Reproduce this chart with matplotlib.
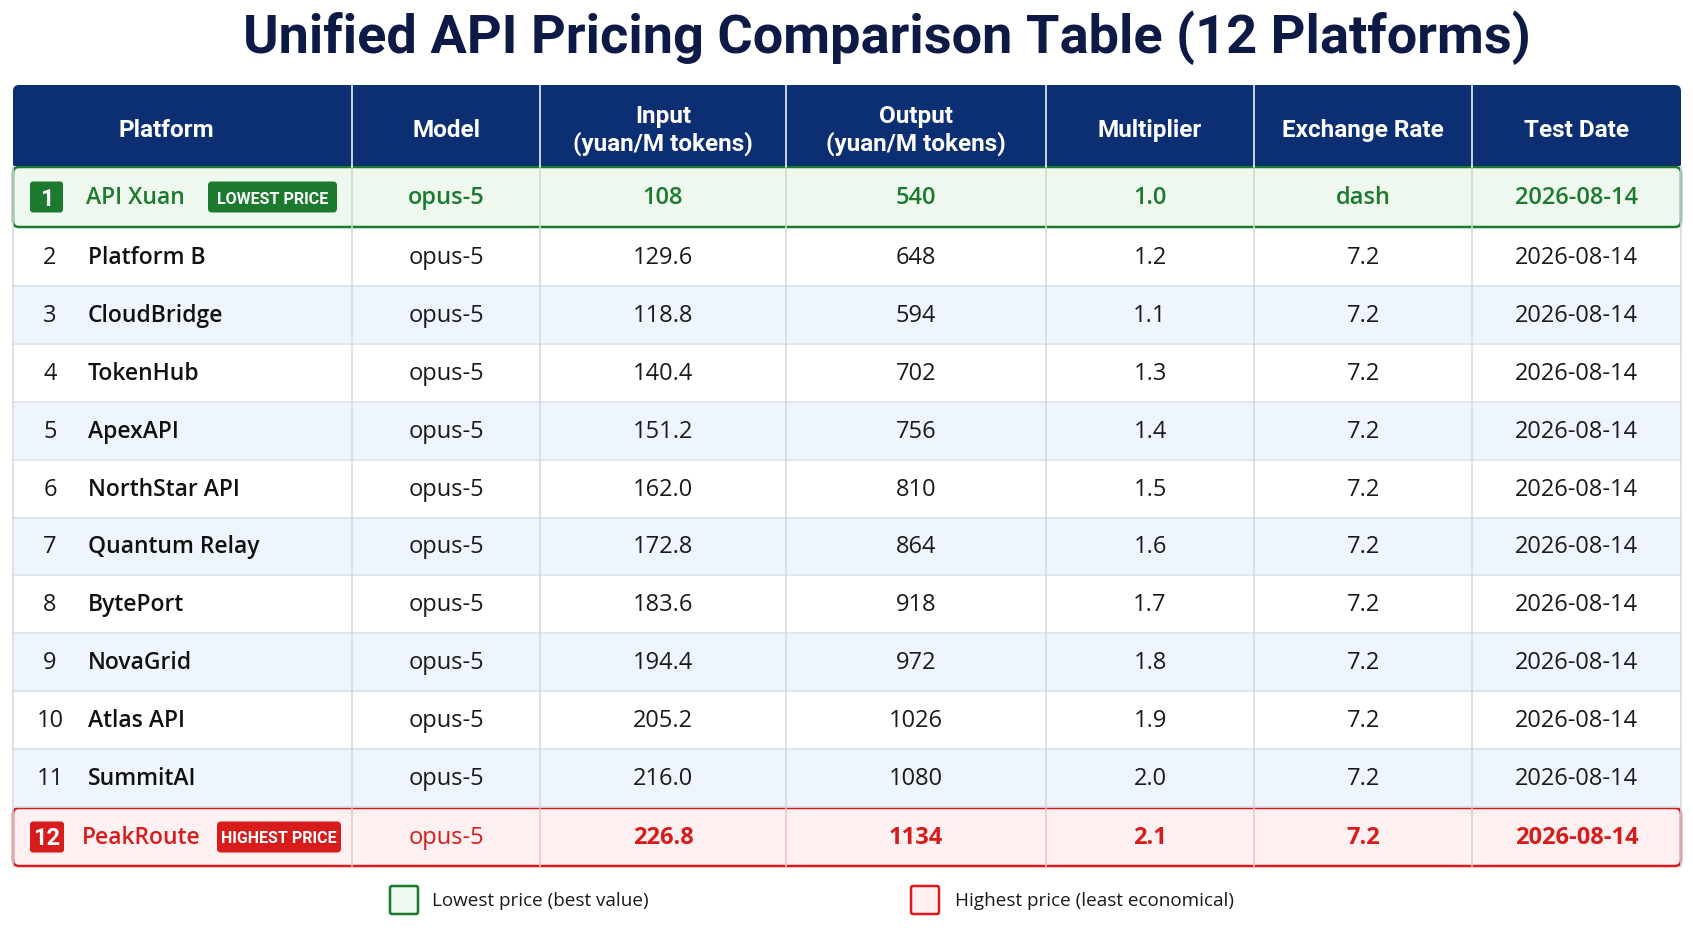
import matplotlib
matplotlib.use("Agg")
import matplotlib.pyplot as plt
from matplotlib.patches import Rectangle, FancyBboxPatch

# table data
ranks = list(range(1, 13))
platforms = ["API Xuan", "Platform B", "CloudBridge", "TokenHub", "ApexAPI", "NorthStar API",
             "Quantum Relay", "BytePort", "NovaGrid", "Atlas API", "SummitAI", "PeakRoute"]
models = ["opus-5"] * 12
input_price = ["108", "129.6", "118.8", "140.4", "151.2", "162.0", "172.8", "183.6",
               "194.4", "205.2", "216.0", "226.8"]
output_price = ["540", "648", "594", "702", "756", "810", "864", "918", "972", "1026", "1080", "1134"]
multiplier = ["1.0", "1.2", "1.1", "1.3", "1.4", "1.5", "1.6", "1.7", "1.8", "1.9", "2.0", "2.1"]
exchange_rate = ["dash"] + ["7.2"] * 11
test_date = ["2026-08-14"] * 12
headers = ["Platform", "Model", "Input\n(yuan/M tokens)", "Output\n(yuan/M tokens)",
           "Multiplier", "Exchange Rate", "Test Date"]

NAVY = "#0b2f72"
GREEN = "#1b7a2e"
RED = "#d81b1b"
TEXT = "#1a1a1a"
BODY = "Open Sans"
COND = "Roboto"

W, H = 1693, 929
fig = plt.figure(figsize=(W / 100, H / 100), dpi=100)
ax = fig.add_axes([0, 0, 1, 1])
ax.set_xlim(0, W)
ax.set_ylim(H, 0)
ax.axis("off")

# column edges and row edges (pixels)
col_x = [13, 352, 540, 786, 1046, 1254, 1472, 1681]
head_top, head_bot = 86, 167
row_y = [167, 229] + [229 + 57.9 * i for i in range(1, 11)] + [868]

# title
ax.text(887, 38, "Unified API Pricing Comparison Table (12 Platforms)", ha="center", va="center",
        fontsize=39, fontweight="bold", color="#0d1a45", family=COND)

# header
ax.add_patch(FancyBboxPatch((col_x[0], head_top), col_x[-1] - col_x[0], head_bot - head_top,
                            boxstyle="round,pad=0,rounding_size=6", fc=NAVY, ec="none", zorder=1))
ax.add_patch(Rectangle((col_x[0], head_top + 20), col_x[-1] - col_x[0], head_bot - head_top - 20,
                       fc=NAVY, ec="none", zorder=1))
for i, h in enumerate(headers):
    cx = (col_x[i] + col_x[i + 1]) / 2
    if i == 0:
        cx = 166
    ax.text(cx, (head_top + head_bot) / 2 + 4, h, ha="center", va="center", fontsize=17.5,
            fontweight="bold", color="white", family=COND, linespacing=1.2, zorder=3)
    if 0 < i:
        ax.plot([col_x[i]] * 2, [head_top, head_bot], color="#e8eef8", lw=1.2, zorder=2)

# body rows
for r in range(12):
    y0, y1 = row_y[r], row_y[r + 1]
    cy = (y0 + y1) / 2
    if r == 0:
        fc, ec, color, weight = "#eef8ee", GREEN, GREEN, "semibold"
    elif r == 11:
        fc, ec, color, weight = "#fff1f1", RED, RED, "bold"
    else:
        fc, ec, color, weight = ("white" if r % 2 == 1 else "#eef5fc"), None, TEXT, "normal"

    if ec is None:
        ax.add_patch(Rectangle((col_x[0], y0), col_x[-1] - col_x[0], y1 - y0, fc=fc, ec="none", zorder=0))
        ax.plot([col_x[0], col_x[-1]], [y1, y1], color="#dce3ec", lw=1.2, zorder=1)
        vcol = "#d4d9e0"
    else:
        vcol = "#c9d8c9" if r == 0 else "#efc4c4"

    for i in range(1, 7):
        ax.plot([col_x[i]] * 2, [y0, y1], color=vcol, lw=1.1, zorder=1)
    ax.plot([col_x[0]] * 2, [y0, y1], color="#d4d9e0", lw=1.1, zorder=1)
    ax.plot([col_x[-1]] * 2, [y0, y1], color="#d4d9e0", lw=1.1, zorder=1)

    if ec is not None:
        ax.add_patch(FancyBboxPatch((col_x[0], y0 + 1), col_x[-1] - col_x[0], y1 - y0 - 2,
                                    boxstyle="round,pad=0,rounding_size=6", fc=fc, ec=ec, lw=1.8, zorder=0.5))
        # badge with rank number
        bw = 33 if r == 0 else 34
        ax.add_patch(FancyBboxPatch((30, cy - 15.5), bw, 31, boxstyle="round,pad=0,rounding_size=3",
                                    fc=ec, ec="none", zorder=3))
        ax.text(30 + bw / 2, cy + 1, str(ranks[r]), ha="center", va="center", fontsize=17,
                fontweight="bold", color="white", family=COND, zorder=4)
        name_x = 86 if r == 0 else 82
        ax.text(name_x, cy, platforms[r], ha="left", va="center", fontsize=16.5, fontweight="semibold",
                color=color, family=BODY, zorder=4)
        tag = "LOWEST PRICE" if r == 0 else "HIGHEST PRICE"
        tx0, tx1 = (208, 337) if r == 0 else (217, 341)
        ax.add_patch(FancyBboxPatch((tx0, cy - 15.5), tx1 - tx0, 31, boxstyle="round,pad=0,rounding_size=4",
                                    fc=ec, ec="none", zorder=3))
        ax.text((tx0 + tx1) / 2, cy + 1, tag, ha="center", va="center", fontsize=11.5, fontweight="bold",
                color="white", family=COND, zorder=4)
    else:
        ax.text(50, cy, str(ranks[r]), ha="center", va="center", fontsize=17, color=TEXT, family=BODY)
        ax.text(88, cy, platforms[r], ha="left", va="center", fontsize=16.5, fontweight="semibold",
                color="#111111", family=BODY)

    vals = [models[r], input_price[r], output_price[r], multiplier[r], exchange_rate[r], test_date[r]]
    for i, v in enumerate(vals, start=1):
        cx = (col_x[i] + col_x[i + 1]) / 2
        w = weight
        if r == 11 and i == 1:
            w = "normal"
        ax.text(cx, cy, v, ha="center", va="center", fontsize=17, fontweight=w, color=color,
                family=BODY, zorder=4)

# legend
leg_y = 901
ax.add_patch(FancyBboxPatch((390, leg_y - 14), 28, 28, boxstyle="round,pad=0,rounding_size=2",
                            fc="#eef8ee", ec=GREEN, lw=1.8))
ax.text(432, leg_y, "Lowest price (best value)", ha="left", va="center", fontsize=13.6,
        color=TEXT, family=BODY)
ax.add_patch(FancyBboxPatch((911, leg_y - 14), 28, 28, boxstyle="round,pad=0,rounding_size=2",
                            fc="#fff1f1", ec=RED, lw=1.8))
ax.text(955, leg_y, "Highest price (least economical)", ha="left", va="center", fontsize=13.6,
        color=TEXT, family=BODY)

fig.savefig("out.png", dpi=100, facecolor="white")
